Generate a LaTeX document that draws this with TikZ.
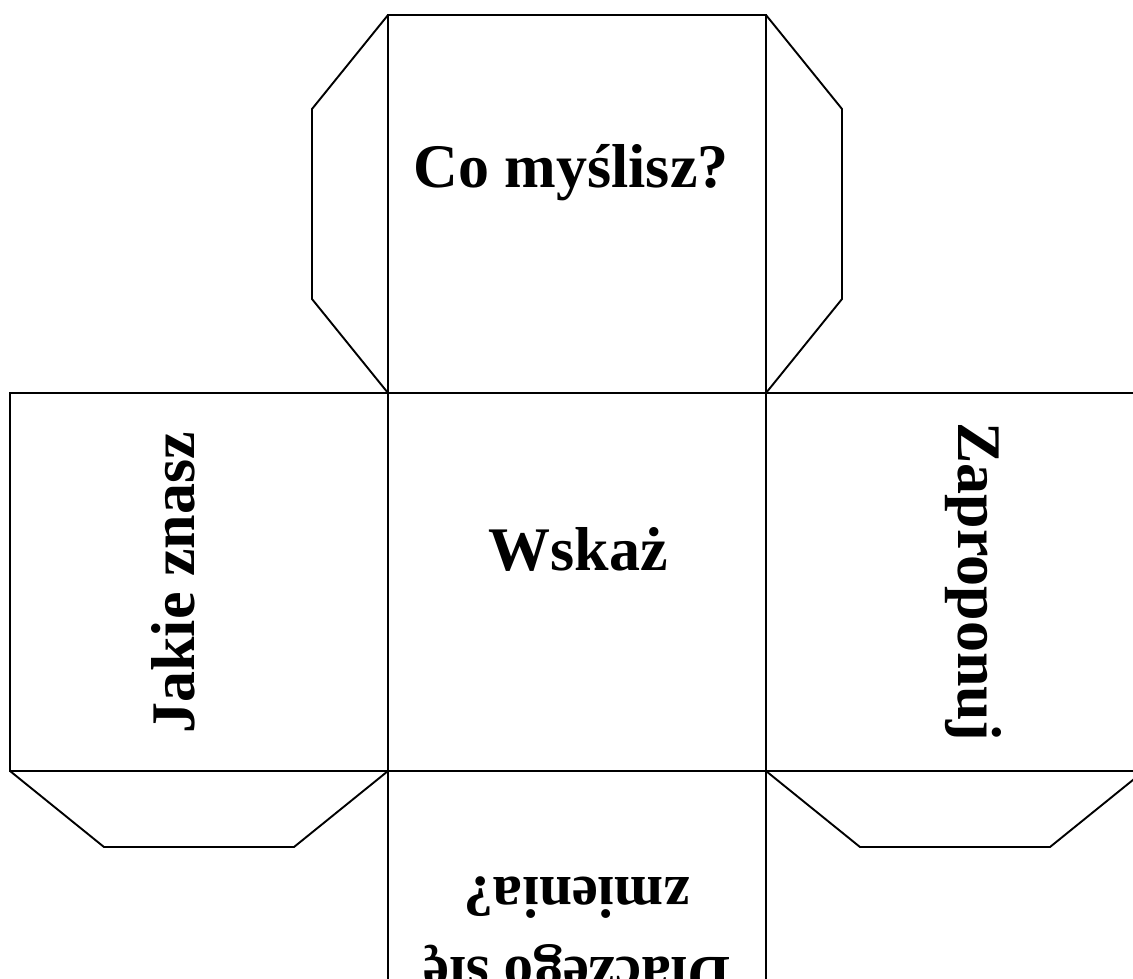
\documentclass[tikz,border=0pt]{standalone}
\usepackage{fontspec}
\setmainfont{Liberation Serif}
\usetikzlibrary{positioning}
\tikzset{
    face/.style={draw, rectangle, minimum size=378pt, inner sep=0pt, outer sep=0pt},
    word/.style={font=\fontsize{62}{74}\selectfont\bfseries, inner sep=0pt, anchor=base}
}

\begin{document}
\begin{tikzpicture}[x=1pt, y=-1pt, line width=1.9pt, node distance=0pt]
    \useasboundingbox (0,0) rectangle (1133,978);
    \clip (0,0) rectangle (1133,978);

    % faces of the net
    \node[face] (wskaz) at (577,582) {};
    \node[face, above=of wskaz] (mysl) {};
    \node[face, left=of wskaz] (jakie) {};
    \node[face, right=of wskaz] (zaprop) {};
    \node[face, below=of wskaz] (dlacz) {};

    % glue tabs
    \draw (mysl.north west) -- ++(-76,94) -- ++(0,190) -- (mysl.south west);
    \draw (mysl.north east) -- ++(76,94) -- ++(0,190) -- (mysl.south east);
    \draw (jakie.south west) -- ++(94,76) -- ++(190,0) -- (jakie.south east);
    \draw (zaprop.south west) -- ++(94,76) -- ++(190,0) -- (zaprop.south east);

    \node[word] (tmysl) at (571,187) {Co myślisz?};
    \node[word] (twskaz) at (578,570) {Wskaż};
    \node[word, rotate=90] (tjakie) at (194,583) {Jakie znasz};
    \node[word, rotate=-90] (tzaprop) at (958,582) {Zaproponuj};
    \node[word, rotate=180, font=\fontsize{59}{70}\selectfont\bfseries] (tdlacz) at (577,957) {Dlaczego się};
    \node[word, rotate=180, font=\fontsize{59}{70}\selectfont\bfseries] (tzmien) at (577,877) {zmienia?};
\end{tikzpicture}
\end{document}
